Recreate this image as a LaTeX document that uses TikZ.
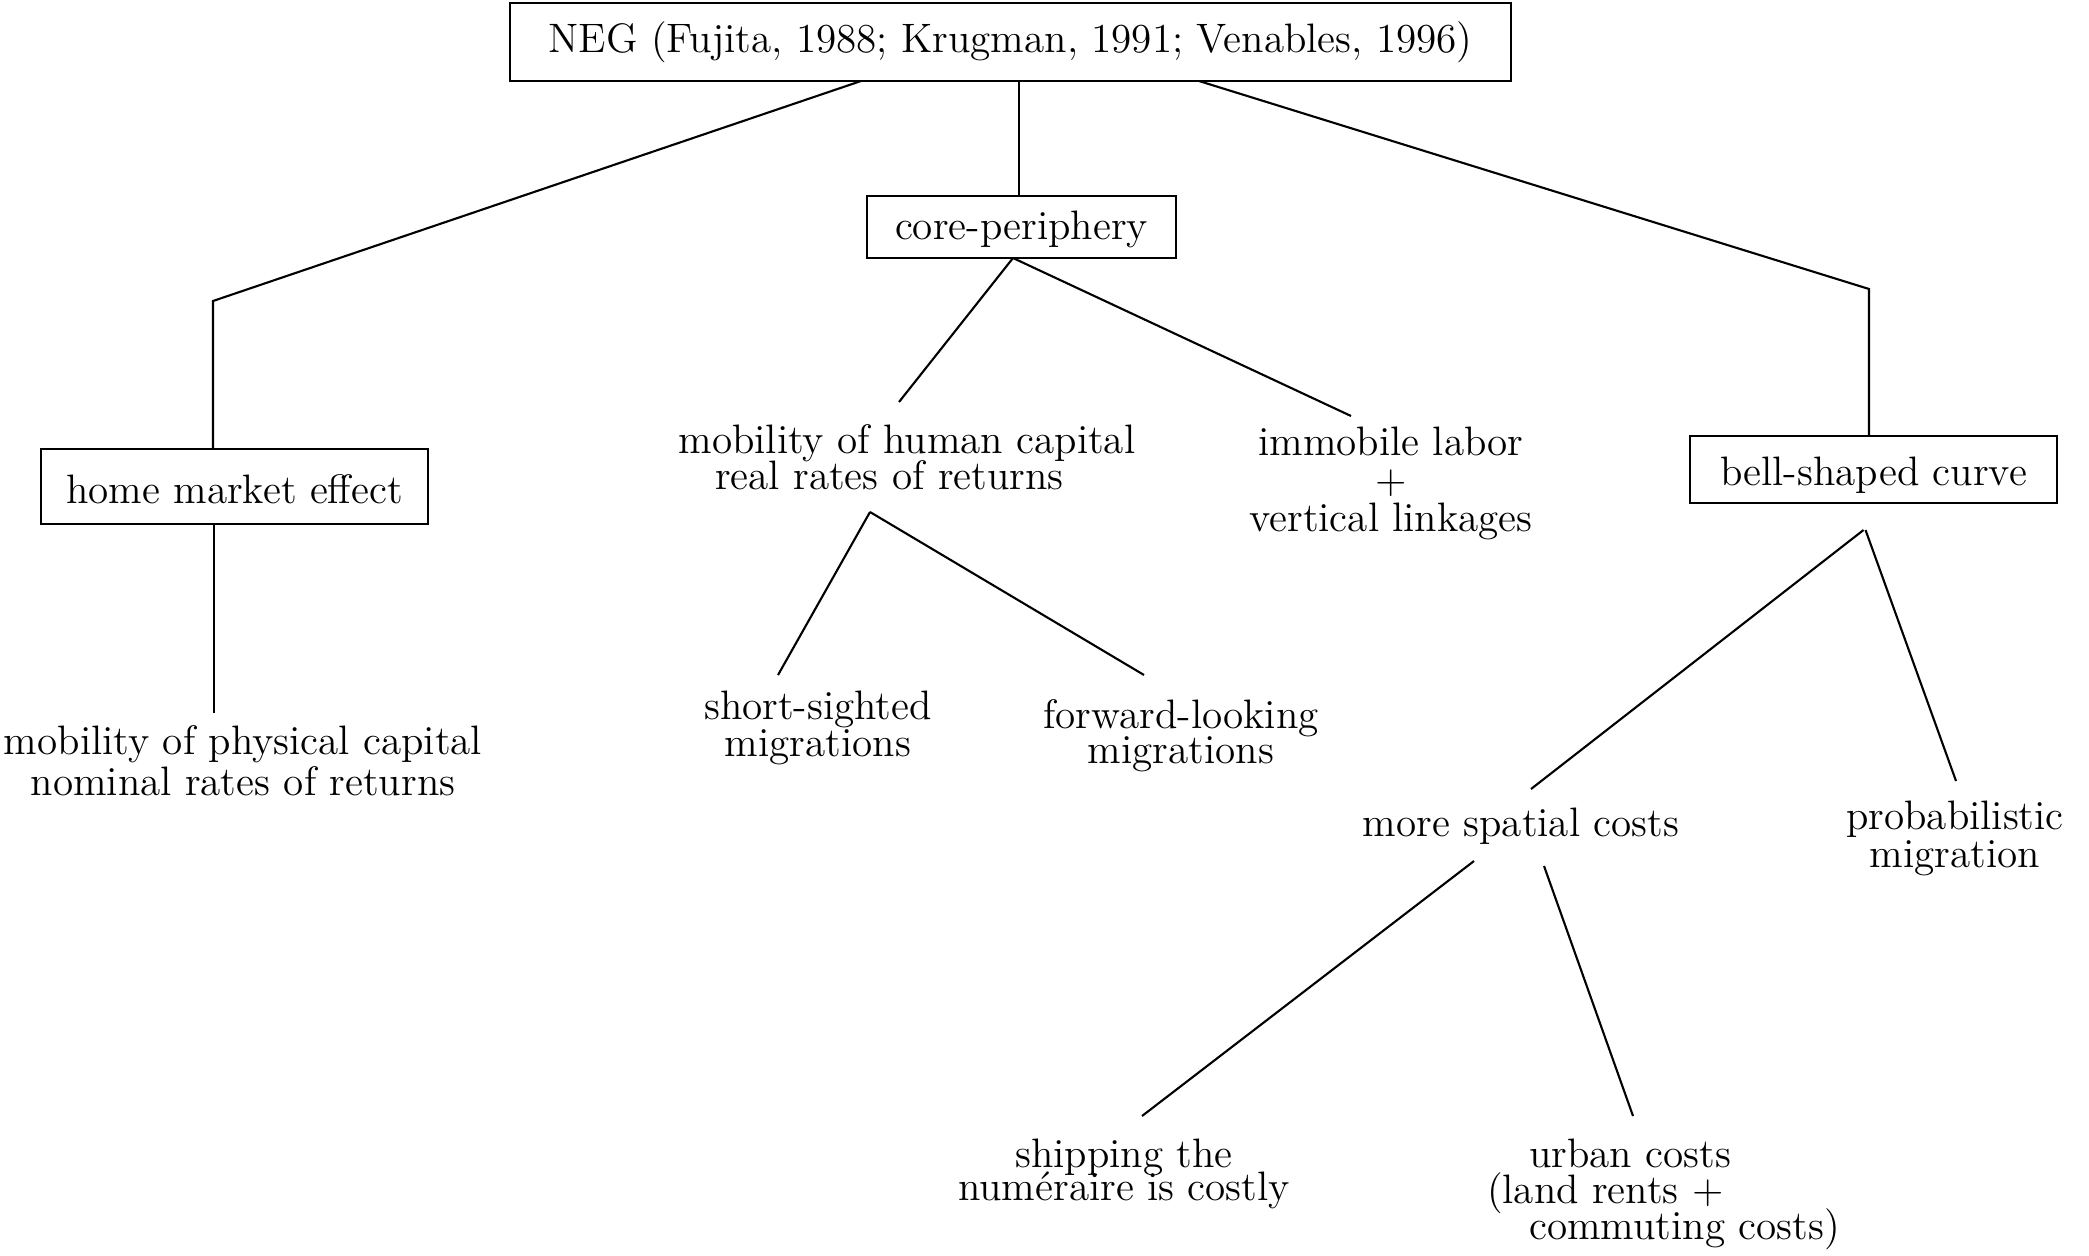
\documentclass[tikz,border=0pt]{standalone}
\usetikzlibrary{calc}
\lineskiplimit=-20pt
\begin{document}
\begin{tikzpicture}[x=0.01cm,y=-0.01cm,
  every node/.style={inner sep=0pt, outer sep=0pt, align=center},
  lh/.style={font={\fontsize{11.7}{#1pt}\selectfont\lineskiplimit=-20pt\relax}},
  lh/.default=10.3,
  box/.style={draw, line width=0.6pt, lh},
  link/.style={line width=0.6pt}
]
\useasboundingbox (0,0) rectangle (2089,1255);

% boxed nodes
\node[box, minimum width=10.01cm, minimum height=0.78cm] (neg) at (1010.5,42)
  {NEG (Fujita, 1988; Krugman, 1991; Venables, 1996)};
\node[box, minimum width=3.09cm, minimum height=0.62cm, text height=9.6pt] (core) at (1021.5,227) {core-periphery};
\node[box, minimum width=3.87cm, minimum height=0.75cm, text height=9.6pt] (home) at (234.5,486.5) {home market effect};
\node[box, minimum width=3.67cm, minimum height=0.67cm, text height=11.5pt] (bell) at (1873.5,469.5) {bell-shaped curve};

% text nodes
\node[lh=11.7] (phys) at (243,761) {mobility of physical capital\\nominal rates of returns};
\node[lh=10.2] (hum) at (907,457) {mobility of human capital\\real rates of returns\hspace*{10pt}};
\node[lh=10.8] (imm) at (1391,483) {immobile labor\\+\\vertical linkages};
\node[lh=10.3] (short) at (818,728) {short-sighted\\migrations};
\node[lh=10.0] (fwd) at (1181,736) {forward-looking\\migrations};
\node[lh] (spatial) at (1521,826) {more spatial costs};
\node[lh=10.8] (prob) at (1955,838) {probabilistic\\migration};
\node[lh=9.4] (ship) at (1124,1174) {shipping the\\numéraire is costly};
\node[lh=10.2, align=left, anchor=west] (urban) at (1487,1194)
  {\hspace*{12pt}urban costs\\(land rents +\\\hspace*{12pt}commuting costs)};

% junctions
\coordinate (jl) at (213,301);
\coordinate (jr) at (1869,289);

% connectors
\draw[link] ($(neg.south)+(-149.5,0)$) -- (jl) -- (jl |- home.north);
\draw[link] ($(neg.south)+(8.5,0)$) -- ($(core.north)+(-2.5,0)$);
\draw[link] ($(neg.south)+(188.5,0)$) -- (jr) -- (jr |- bell.north);
\draw[link] ($(home.south)+(-20.5,0)$) -- ($(phys)+(-29,-48)$);
\draw[link] ($(core.south)+(-8.5,0)$) -- ($(hum)+(-8,-55)$);
\draw[link] ($(core.south)+(-8.5,0)$) -- ($(imm)+(-40,-67)$);
\draw[link] ($(hum)+(-37,55)$) -- ($(short)+(-40,-53)$);
\draw[link] ($(hum)+(-37,55)$) -- ($(fwd)+(-37,-61)$);
\draw[link] ($(bell.south)+(-10,27)$) -- ($(spatial)+(10,-37)$);
\draw[link] ($(bell.south)+(-8,27)$) -- ($(prob)+(1,-57)$);
\draw[link] ($(spatial)+(-47,35)$) -- ($(ship)+(18,-58)$);
\draw[link] ($(spatial)+(23,40)$) -- ($(urban.west)+(146,-78)$);
\end{tikzpicture}
\end{document}
